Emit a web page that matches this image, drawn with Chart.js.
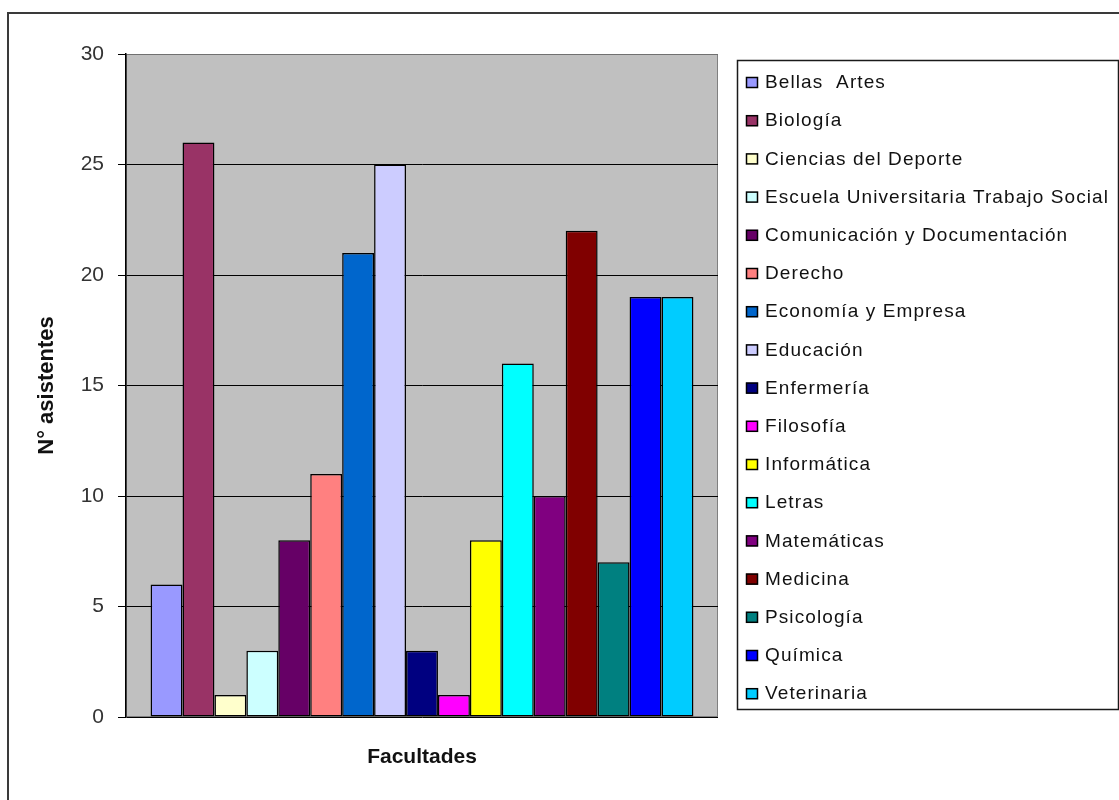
<!DOCTYPE html>
<html lang="es">
<head>
<meta charset="utf-8">
<title>Asistentes por facultad</title>
<script src="https://cdn.jsdelivr.net/npm/chart.js@4.4.1/dist/chart.umd.min.js"></script>
<style>
  html, body { margin: 0; padding: 0; background: #fff; }
  canvas { display: block; }
</style>
</head>
<body>
<canvas id="facChart" width="1119" height="800"></canvas>
<script>
// ---- datos ----
const categorias = [''];
const facultades = [
    'Bellas  Artes', 'Biología', 'Ciencias del Deporte', 'Escuela Universitaria Trabajo Social',
    'Comunicación y Documentación', 'Derecho', 'Economía y Empresa', 'Educación',
    'Enfermería', 'Filosofía', 'Informática', 'Letras', 'Matemáticas', 'Medicina',
    'Psicología', 'Química', 'Veterinaria'
];
const asistentes = [6, 26, 1, 3, 8, 11, 21, 25, 3, 1, 8, 16, 10, 22, 7, 19, 19];
const colores = [
    '#9999FF', '#993366', '#FFFFCC', '#CCFFFF', '#660066', '#FF8080', '#0066CC', '#CCCCFF',
    '#000080', '#FF00FF', '#FFFF00', '#00FFFF', '#800080', '#800000', '#008080', '#0000FF', '#00CCFF'
];
const yTicks = [0, 5, 10, 15, 20, 25, 30];

const FONT = "'Liberation Sans', Arial, sans-serif";

// plot background, outer frame, legend box
const excelFrame = {
    id: 'excelFrame',
    beforeDraw(chart) {
        const { ctx, chartArea: a } = chart;
        ctx.save();
        ctx.fillStyle = '#C0C0C0';
        ctx.fillRect(a.left, a.top, a.right - a.left, a.bottom - a.top);
        ctx.strokeStyle = '#808080';
        ctx.lineWidth = 1;
        ctx.strokeRect(a.left + 0.5, a.top + 0.5, a.right - a.left - 1, a.bottom - a.top - 1);
        ctx.restore();
    },
    afterDraw(chart) {
        const ctx = chart.ctx;
        ctx.save();
        // outer chart border
        ctx.strokeStyle = '#3a3a3a';
        ctx.lineWidth = 2;
        ctx.strokeRect(8, 13, 1130, 800);

        // legend
        const box = { x: 737, y: 60, w: 381, h: 649 };
        ctx.strokeStyle = '#1a1a1a';
        ctx.lineWidth = 1.5;
        ctx.strokeRect(box.x + 0.5, box.y + 0.5, box.w, box.h);

        ctx.font = '19px ' + FONT;
        ctx.letterSpacing = '1.1px';
        ctx.textBaseline = 'middle';
        ctx.textAlign = 'left';
        const rowH = 38.2;
        chart.data.datasets.forEach((ds, i) => {
            const cy = 82 + i * rowH;
            ctx.fillStyle = ds.backgroundColor;
            ctx.fillRect(746, cy - 5, 12, 11);
            ctx.strokeStyle = '#000';
            ctx.lineWidth = 1.5;
            ctx.strokeRect(746.5, cy - 4.5, 11, 10);
            ctx.fillStyle = '#111';
            ctx.fillText(ds.label, 765, cy + 1);
        });
        ctx.restore();
    }
};

new Chart(document.getElementById('facChart').getContext('2d'), {
    type: 'bar',
    data: {
        labels: categorias,
        datasets: facultades.map((f, i) => ({
            label: f,
            data: [asistentes[i]],
            backgroundColor: colores[i],
            borderColor: '#000',
            borderWidth: 1.5,
            borderSkipped: false,
            categoryPercentage: 0.917,
            barPercentage: 1.0
        }))
    },
    options: {
        responsive: false,
        animation: false,
        devicePixelRatio: 1,
        layout: { padding: { left: 0, right: 401, top: 54, bottom: 0 } },
        plugins: {
            legend: { display: false },
            tooltip: { enabled: false }
        },
        scales: {
            x: {
                grid: { display: false },
                border: { display: false },
                ticks: { display: false },
                title: {
                    display: true,
                    text: 'Facultades',
                    color: '#111',
                    font: { family: FONT, size: 21, weight: 'bold' },
                    padding: { top: 0, bottom: 30 }
                },
                afterFit: s => { s.height = 83; }
            },
            y: {
                min: 0,
                max: 30,
                afterBuildTicks: s => { s.ticks = yTicks.map(v => ({ value: v })); },
                grid: {
                    color: c => (c.tick && c.tick.value === 30 ? '#707070' : '#000'),
                    tickColor: '#000',
                    tickLength: 8,
                    lineWidth: 1
                },
                border: { display: true, color: '#000', width: 1.5 },
                ticks: {
                    color: '#333',
                    font: { family: FONT, size: 21 },
                    padding: 14
                },
                title: {
                    display: true,
                    text: 'N° asistentes',
                    color: '#111',
                    font: { family: FONT, size: 22, weight: 'bold' },
                    padding: { top: 34, bottom: 0 }
                },
                afterFit: s => { s.width = 126; }
            }
        }
    },
    plugins: [excelFrame]
});
</script>
</body>
</html>
